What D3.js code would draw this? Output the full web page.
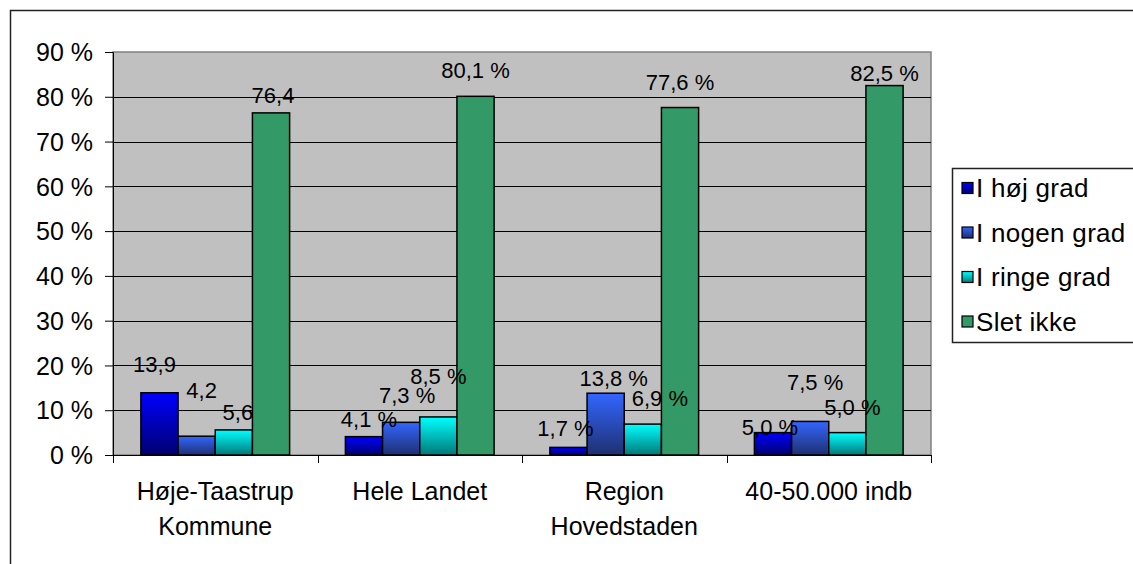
<!DOCTYPE html>
<html>
<head>
<meta charset="utf-8">
<script src="https://cdn.jsdelivr.net/npm/d3@7"></script>
<style>
  html, body { margin: 0; padding: 0; background: #fff; }
  svg { display: block; font-family: "Liberation Sans", Arial, sans-serif; }
</style>
</head>
<body>
<svg id="chart" width="1133" height="564"></svg>
<script>
// ---------- data ----------
const categories = [["Høje-Taastrup", "Kommune"], ["Hele Landet"], ["Region", "Hovedstaden"], ["40-50.000 indb"]];
const seriesNames = ["I høj grad", "I nogen grad", "I ringe grad", "Slet ikke"];
const hojGrad    = [13.9, 4.1, 1.7, 5.0];
const nogenGrad  = [4.2, 7.3, 13.8, 7.5];
const ringeGrad  = [5.6, 8.5, 6.9, 5.0];
const sletIkke   = [76.4, 80.1, 77.6, 82.5];
const labelSuffix = ["", " %", " %", " %"];
const yTicks = [0, 10, 20, 30, 40, 50, 60, 70, 80, 90];

// ---------- layout / style (not data) ----------
const seriesValues = [hojGrad, nogenGrad, ringeGrad, sletIkke];
const gradStops = [["#0000ff", "#000070"], ["#3366ff", "#1f3070"], ["#00ffff", "#007878"], ["#339966", "#339966"]];
// manual label nudges [dx, dy] relative to bar centre / bar top, per category then series
const labelNudge = [
  [[-5, -28], [5, -46], [4, -18], [2, -18]],
  [[5, -17], [6, -27], [0, -41], [0, -26]],
  [[-3, -19], [8, -15], [17, -26], [0, -25]],
  [[-3, -5], [5, -39], [5, -25], [0, -12]]
];

const svg = d3.select("#chart");
const plot = { left: 113, right: 931, top: 52, bottom: 455 };

// outer frame
svg.append("rect").attr("x", 10.5).attr("y", 10.5).attr("width", 1140).attr("height", 600)
  .attr("fill", "#fff").attr("stroke", "#222").attr("stroke-width", 1.5);

const defs = svg.append("defs");
gradStops.forEach((g, i) => {
  const lg = defs.append("linearGradient").attr("id", "g" + i)
    .attr("x1", 0).attr("y1", 0).attr("x2", 0).attr("y2", 1);
  lg.append("stop").attr("offset", "0%").attr("stop-color", g[0]);
  lg.append("stop").attr("offset", "100%").attr("stop-color", g[1]);
});

const x0 = d3.scaleBand().domain(d3.range(categories.length)).range([plot.left, plot.right]).paddingInner(0).paddingOuter(0);
const x1 = d3.scaleBand().domain(d3.range(seriesNames.length)).range([0, x0.bandwidth()]).paddingInner(0).paddingOuter(0.75);
const y = d3.scaleLinear().domain([0, 90]).range([plot.bottom, plot.top]);

// plot background
svg.append("rect").attr("x", plot.left).attr("y", plot.top)
  .attr("width", plot.right - plot.left).attr("height", plot.bottom - plot.top)
  .attr("fill", "#c0c0c0").attr("stroke", "#808080").attr("stroke-width", 1.5);

// gridlines
svg.append("g").selectAll("line").data(yTicks.filter(t => t > 0 && t < 90)).join("line")
  .attr("x1", plot.left).attr("x2", plot.right)
  .attr("y1", d => Math.round(y(d)) + 0.5).attr("y2", d => Math.round(y(d)) + 0.5)
  .attr("stroke", "#000").attr("stroke-width", 1);

// y axis
const yAxis = d3.axisLeft(y).tickValues(yTicks).tickFormat(d => d + " %").tickSize(8).tickPadding(12);
const gy = svg.append("g").attr("transform", `translate(${plot.left},0)`).call(yAxis);
gy.select(".domain").attr("stroke", "#000").attr("stroke-width", 1);
gy.selectAll(".tick line").attr("stroke", "#000");
gy.selectAll(".tick text").attr("font-size", 25).attr("fill", "#000")
  .attr("font-family", "Liberation Sans, Arial, sans-serif").attr("dy", "0.35em");

// bars
const groups = svg.append("g").selectAll("g").data(categories).join("g")
  .attr("transform", (d, i) => `translate(${x0(i)},0)`);
groups.selectAll("rect").data((d, ci) => seriesValues.map((s, si) => ({ ci, si, v: s[ci] }))).join("rect")
  .attr("x", d => x1(d.si)).attr("width", x1.bandwidth())
  .attr("y", d => y(d.v)).attr("height", d => y(0) - y(d.v))
  .attr("fill", d => `url(#g${d.si})`).attr("stroke", "#000").attr("stroke-width", 1.5);

// x axis
const gx = svg.append("g").attr("transform", `translate(0,${plot.bottom})`);
gx.append("line").attr("x1", plot.left).attr("x2", plot.right).attr("y1", 0.5).attr("y2", 0.5).attr("stroke", "#000");
gx.selectAll("line.tk").data(d3.range(categories.length + 1)).join("line").attr("class", "tk")
  .attr("x1", i => Math.round(plot.left + i * x0.step()) + 0.5).attr("x2", i => Math.round(plot.left + i * x0.step()) + 0.5)
  .attr("y1", 0).attr("y2", 8).attr("stroke", "#000");
gx.selectAll("text").data(categories).join("text")
  .attr("text-anchor", "middle").attr("font-size", 25).attr("fill", "#000")
  .attr("x", (d, i) => x0(i) + x0.bandwidth() / 2)
  .attr("y", 45)
  .each(function (d) {
    d3.select(this).selectAll("tspan").data(d).join("tspan")
      .attr("x", d3.select(this).attr("x")).attr("dy", (t, j) => j === 0 ? 0 : 35).text(t => t);
  });

// data labels
const fmt = v => v.toFixed(1).replace(".", ",");
groups.selectAll("text").data((d, ci) => seriesValues.map((s, si) => ({ ci, si, v: s[ci] }))).join("text")
  .attr("text-anchor", "middle").attr("font-size", 22).attr("fill", "#000")
  .attr("x", d => x1(d.si) + x1.bandwidth() / 2 + labelNudge[d.ci][d.si][0])
  .attr("y", d => y(d.v) + labelNudge[d.ci][d.si][1])
  .attr("dy", "0.35em")
  .text(d => fmt(d.v) + labelSuffix[d.ci]);

// legend
const lg = svg.append("g");
lg.append("rect").attr("x", 952.5).attr("y", 168.5).attr("width", 200).attr("height", 174)
  .attr("fill", "#fff").attr("stroke", "#222").attr("stroke-width", 1.5);
const items = lg.selectAll("g").data(seriesNames).join("g")
  .attr("transform", (d, i) => `translate(962,${188 + i * 44.5})`);
items.append("rect").attr("x", 0).attr("y", -5.5).attr("width", 11).attr("height", 11)
  .attr("fill", (d, i) => `url(#g${i})`).attr("stroke", "#000").attr("stroke-width", 1.2);
items.append("text").attr("x", 14).attr("y", 0).attr("dy", "0.35em")
  .attr("font-size", 26).attr("letter-spacing", 0.3).attr("fill", "#000").text(d => d);
</script>
</body>
</html>
